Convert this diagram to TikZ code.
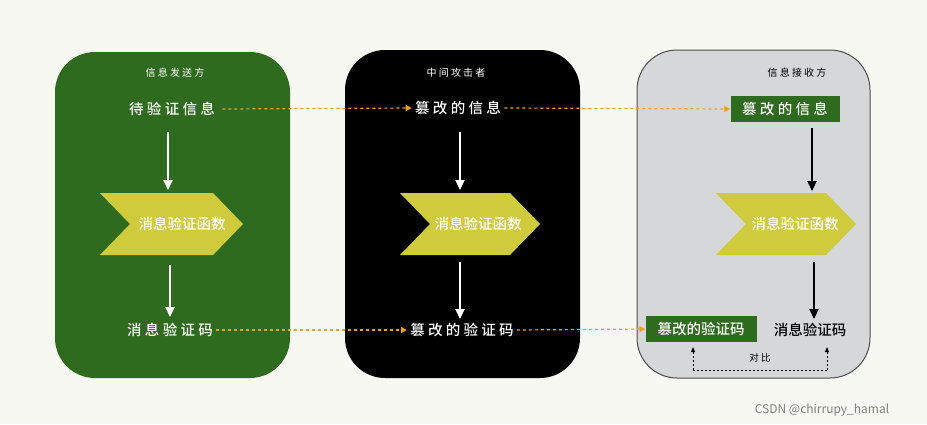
\documentclass[tikz,border=0pt]{standalone}
\usepackage{fontspec}
\setmainfont{Noto Sans CJK SC}[BoldFont={Noto Sans CJK SC Medium}]
\usetikzlibrary{arrows.meta}
\definecolor{bg}{HTML}{F8F8F2}
\definecolor{gr}{HTML}{2E6B1E}
\definecolor{yl}{HTML}{CFCB3C}
\definecolor{og}{HTML}{F0A020}
\definecolor{gy}{HTML}{D6D7D9}
\tikzset{
 panel/.style={rounded corners=40pt},
 lbl/.style={font=\fontsize{10}{12}\selectfont},
 txt/.style={font=\fontsize{14.5}{16}\selectfont\bfseries},
 chev/.style={fill=yl},
 warr/.style={-{Triangle[length=10pt,width=9pt]},line width=2.2pt,white},
 barr/.style={-{Triangle[length=10pt,width=9pt]},line width=2.2pt,black},
 oarr/.style={-{Triangle[length=6pt,width=6pt]},og,line width=1.2pt,dash pattern=on 3pt off 3pt},
 darr/.style={-{Triangle[length=5pt,width=4pt]},dash pattern=on 2pt off 2pt,line width=0.9pt},
 gbox/.style={fill=gr,text=white,minimum height=26pt,inner sep=3pt}
}
\begin{document}
\begin{tikzpicture}[x=1pt,y=-1pt]
\fill[bg] (0,0) rectangle (927,424);
\fill[gr,panel] (55,52) rectangle (290,378);
\fill[black,panel] (345,50) rectangle (580,378);
\filldraw[fill=gy,draw=black!70,line width=1pt,panel] (637,50) rectangle (870,378);
% panel 1
\node[lbl,white] (t1) at (175,73) {信 息 发 送 方};
\node[txt,white] (a1) at (172,109) {待 验 证 信 息};
\fill[chev] (100,193)--(213,193)--(243,224)--(213,255)--(100,255)--(130,224)--cycle;
\node[txt,white] (f1) at (182,224) {消息验证函数};
\node[txt,white] (c1) at (170,330) {消 息 验 证 码};
\coordinate (p1) at (168,132); \coordinate (q1) at (168,190);
\coordinate (p2) at (170,265); \coordinate (q2) at (170,317);
\draw[warr] (p1)--(q1); \draw[warr] (p2)--(q2);
% panel 2
\node[lbl,white] (t2) at (456,73) {中 间 攻 击 者};
\node[txt,white] (a2) at (458,108) {篡 改 的 信 息};
\fill[chev] (400,193)--(510,193)--(540,224)--(510,255)--(400,255)--(430,224)--cycle;
\node[txt,white] (f2) at (478,224) {消息验证函数};
\node[txt,white] (c2) at (462,330) {篡 改 的 验 证 码};
\coordinate (p3) at (460,132); \coordinate (q3) at (460,190);
\coordinate (p4) at (460,262); \coordinate (q4) at (460,319);
\draw[warr] (p3)--(q3); \draw[warr] (p4)--(q4);
% panel 3
\node[lbl] (t3) at (797,73) {信 息 接 收 方};
\node[txt,gbox,minimum width=109pt] (a3) at (785,109) {篡 改 的 信 息};
\fill[chev] (716,193)--(826,193)--(856,224)--(826,255)--(716,255)--(746,224)--cycle;
\node[txt,white] (f3) at (795,224) {消息验证函数};
\node[txt,gbox,minimum width=111pt] (g3) at (701,329) {篡改的验证码};
\node[txt] (c3) at (810,330) {消息验证码};
\coordinate (p5) at (812,128); \coordinate (q5) at (812,191);
\coordinate (p6) at (814,262); \coordinate (q6) at (814,319);
\draw[barr] (p5)--(q5); \draw[barr] (p6)--(q6);
\node[font=\fontsize{9.5}{11}\selectfont] (cmp) at (760,358) {对 比};
\coordinate (d1) at (693,370); \coordinate (d2) at (827,370);
\coordinate (e1) at (693,347); \coordinate (e2) at (827,347);
\draw[dash pattern=on 2pt off 2pt,line width=0.9pt] (d1)--(d2);
\draw[darr] (d1)--(e1); \draw[darr] (d2)--(e2);
% orange
\draw[oarr] (a1.east)++(4,0) -- (a2.west);
\draw[oarr] (a2.east) -- (a3.west);
\draw[oarr] (c1.east) -- (c2.west);
\draw[oarr] (c2.east) -- (g3.west);
\node[gray,font=\fontsize{12}{13}\selectfont] (wm) at (822,410) {CSDN @chirrupy\_hamal};
\end{tikzpicture}
\end{document}
